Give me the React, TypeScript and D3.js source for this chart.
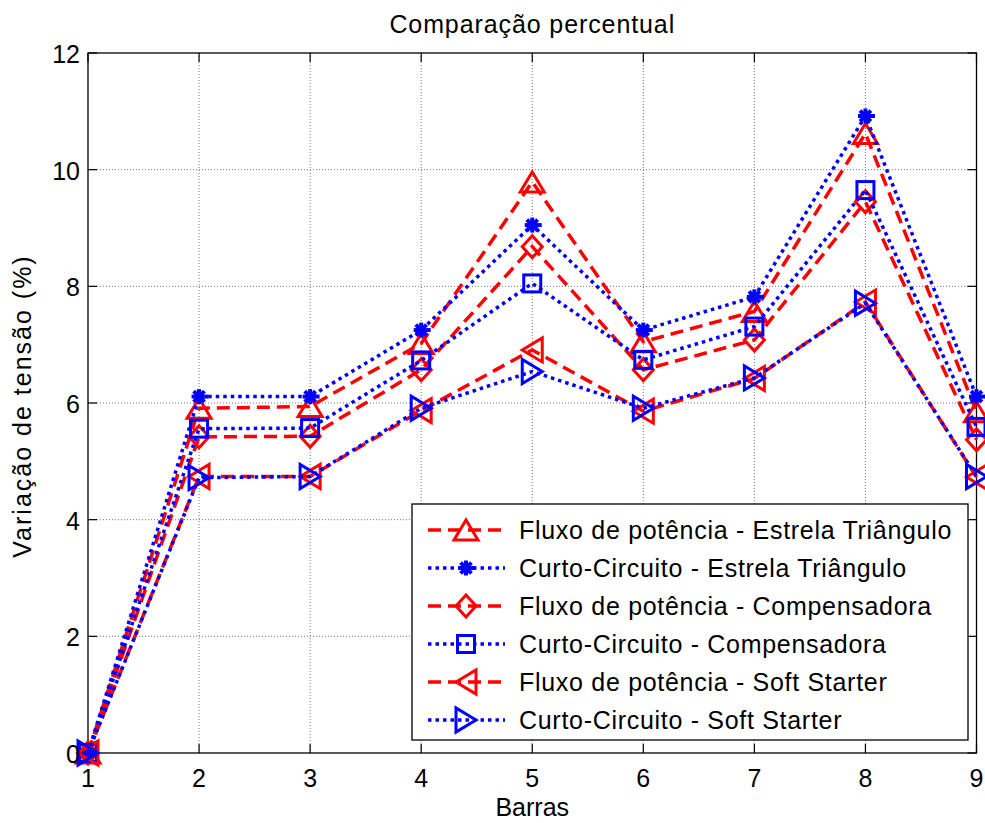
import React from 'react';
import * as d3 from 'd3';

// barras 1..9
const barras = [1, 2, 3, 4, 5, 6, 7, 8, 9];

const fluxoEstrela = [0, 5.91, 5.94, 7.02, 9.79, 7.05, 7.57, 10.62, 5.85];
const curtoEstrela = [0, 6.11, 6.11, 7.25, 9.05, 7.25, 7.82, 10.92, 6.11];
const fluxoCompensadora = [0, 5.42, 5.43, 6.57, 8.68, 6.57, 7.08, 9.45, 5.37];
const curtoCompensadora = [0, 5.56, 5.57, 6.73, 8.05, 6.74, 7.31, 9.65, 5.59];
const fluxoSoft = [0, 4.74, 4.74, 5.87, 6.91, 5.86, 6.42, 7.73, 4.73];
const curtoSoft = [0, 4.72, 4.74, 5.91, 6.54, 5.91, 6.43, 7.71, 4.74];

const yTicks = [0, 2, 4, 6, 8, 10, 12];

const labels = [
  'Fluxo de potência - Estrela Triângulo',
  'Curto-Circuito - Estrela Triângulo',
  'Fluxo de potência - Compensadora',
  'Curto-Circuito - Compensadora',
  'Fluxo de potência - Soft Starter',
  'Curto-Circuito - Soft Starter',
];

const RED = '#ff0000';
const BLUE = '#0000ff';
const FONT = '"Liberation Sans", Arial, Helvetica, sans-serif';
const DASH = '13,7';
const DOT = '3.5,4';

const series = [
  { values: fluxoEstrela, color: RED, dash: DASH, marker: '^' },
  { values: curtoEstrela, color: BLUE, dash: DOT, marker: '*' },
  { values: fluxoCompensadora, color: RED, dash: DASH, marker: 'd' },
  { values: curtoCompensadora, color: BLUE, dash: DOT, marker: 's' },
  { values: fluxoSoft, color: RED, dash: DASH, marker: '<' },
  { values: curtoSoft, color: BLUE, dash: DOT, marker: '>' },
];

const W = 985;
const H = 823;
const margin = { top: 53, right: 8, bottom: 70, left: 88 };

function Marker({ type, x, y, color }: { type: string; x: number; y: number; color: string }) {
  const common = { fill: 'none', stroke: color, strokeWidth: 3, strokeLinejoin: 'miter' as const };
  switch (type) {
    case '^':
      return <polygon {...common} points={`${x},${y - 10} ${x + 12},${y + 10} ${x - 12},${y + 10}`} />;
    case '<':
      return <polygon {...common} points={`${x - 10},${y} ${x + 10},${y - 12} ${x + 10},${y + 12}`} />;
    case '>':
      return <polygon {...common} points={`${x + 10},${y} ${x - 10},${y - 12} ${x - 10},${y + 12}`} />;
    case 'd':
      return <polygon {...common} points={`${x},${y - 11} ${x + 10},${y} ${x},${y + 11} ${x - 10},${y}`} />;
    case 's':
      return <rect {...common} x={x - 8.5} y={y - 8.5} width={17} height={17} />;
    case '*': {
      const r = 7.5;
      const d = r * 0.72;
      return (
        <g stroke={color} strokeWidth={4}>
          <line x1={x - r} y1={y} x2={x + r + 2} y2={y} />
          <line x1={x} y1={y - r} x2={x} y2={y + r} />
          <line x1={x - d} y1={y - d} x2={x + d} y2={y + d} />
          <line x1={x - d} y1={y + d} x2={x + d} y2={y - d} />
          <circle cx={x} cy={y} r={4} fill={color} stroke="none" />
        </g>
      );
    }
    default:
      return null;
  }
}

export default function App() {
  const x = d3.scaleLinear().domain([1, 9]).range([margin.left, W - margin.right - 0.5]);
  const y = d3.scaleLinear().domain([0, 12]).range([H - margin.bottom, margin.top]);
  const x0 = x(1);
  const x1 = x(9);
  const y0 = y(0);
  const y1 = y(12);

  const line = d3
    .line<number>()
    .x((_, i) => x(barras[i]))
    .y((d) => y(d));

  const tickLen = 9;

  // legend
  const lg = { x: 412, y: 504, w: 556, h: 236, row0: 530, step: 38 };

  return (
    <svg
      width={W}
      height={H}
      style={{ position: 'absolute', left: 0, top: 0, background: '#fff' }}
      fontFamily={FONT}
    >
      <rect width={W} height={H} fill="#fff" />

      {/* grid */}
      <g stroke="#777" strokeWidth={1} strokeDasharray="1,2">
        {barras.slice(1, -1).map((b) => (
          <line key={'gx' + b} x1={x(b)} x2={x(b)} y1={y1} y2={y0} />
        ))}
        {yTicks.slice(1, -1).map((t) => (
          <line key={'gy' + t} x1={x0} x2={x1} y1={y(t)} y2={y(t)} />
        ))}
      </g>

      {/* ticks on all four sides */}
      <g stroke="#000" strokeWidth={1.2}>
        {barras.map((b) => (
          <g key={'tx' + b}>
            <line x1={x(b)} x2={x(b)} y1={y0} y2={y0 - tickLen} />
            <line x1={x(b)} x2={x(b)} y1={y1} y2={y1 + tickLen} />
          </g>
        ))}
        {yTicks.map((t) => (
          <g key={'ty' + t}>
            <line x1={x0} x2={x0 + tickLen} y1={y(t)} y2={y(t)} />
            <line x1={x1} x2={x1 - tickLen} y1={y(t)} y2={y(t)} />
          </g>
        ))}
      </g>

      <rect x={x0} y={y1} width={x1 - x0} height={y0 - y1} fill="none" stroke="#000" strokeWidth={1.3} />

      {/* series */}
      {series.map((s, i) => (
        <g key={'s' + i}>
          <path d={line(s.values) || ''} fill="none" stroke={s.color} strokeWidth={3.5} strokeDasharray={s.dash} />
          {s.values.map((v, j) => (
            <Marker key={j} type={s.marker} x={x(barras[j])} y={y(v)} color={s.color} />
          ))}
        </g>
      ))}

      {/* tick labels */}
      <g fontSize={25} fill="#000">
        {barras.map((b) => (
          <text key={'lx' + b} x={x(b)} y={y0 + 34} textAnchor="middle">
            {b}
          </text>
        ))}
        {yTicks.map((t) => (
          <text key={'ly' + t} x={x0 - 8} y={y(t)} dy="0.4em" textAnchor="end">
            {t}
          </text>
        ))}
      </g>

      {/* title and axis labels */}
      <text x={(x0 + x1) / 2} y={33} textAnchor="middle" fontSize={25} letterSpacing={0.9}>
        Comparação percentual
      </text>
      <text x={(x0 + x1) / 2} y={816} textAnchor="middle" fontSize={25}>
        Barras
      </text>
      <text
        transform={`translate(31,${(y0 + y1) / 2 + 3}) rotate(-90)`}
        textAnchor="middle"
        fontSize={25}
        letterSpacing={2}
      >
        Variação de tensão (%)
      </text>

      {/* legend */}
      <g>
        <rect x={lg.x} y={lg.y} width={lg.w} height={lg.h} fill="#fff" stroke="#000" strokeWidth={1.3} />
        {series.map((s, i) => {
          const ry = lg.row0 + i * lg.step;
          return (
            <g key={'lg' + i}>
              <line x1={lg.x + 16} x2={lg.x + 93} y1={ry} y2={ry} stroke={s.color} strokeWidth={3.5} strokeDasharray={s.dash} />
              <Marker type={s.marker} x={lg.x + 54} y={ry} color={s.color} />
              <text x={lg.x + 107} y={ry} dy="0.36em" fontSize={25} letterSpacing={0.7}>
                {labels[i]}
              </text>
            </g>
          );
        })}
      </g>
    </svg>
  );
}
